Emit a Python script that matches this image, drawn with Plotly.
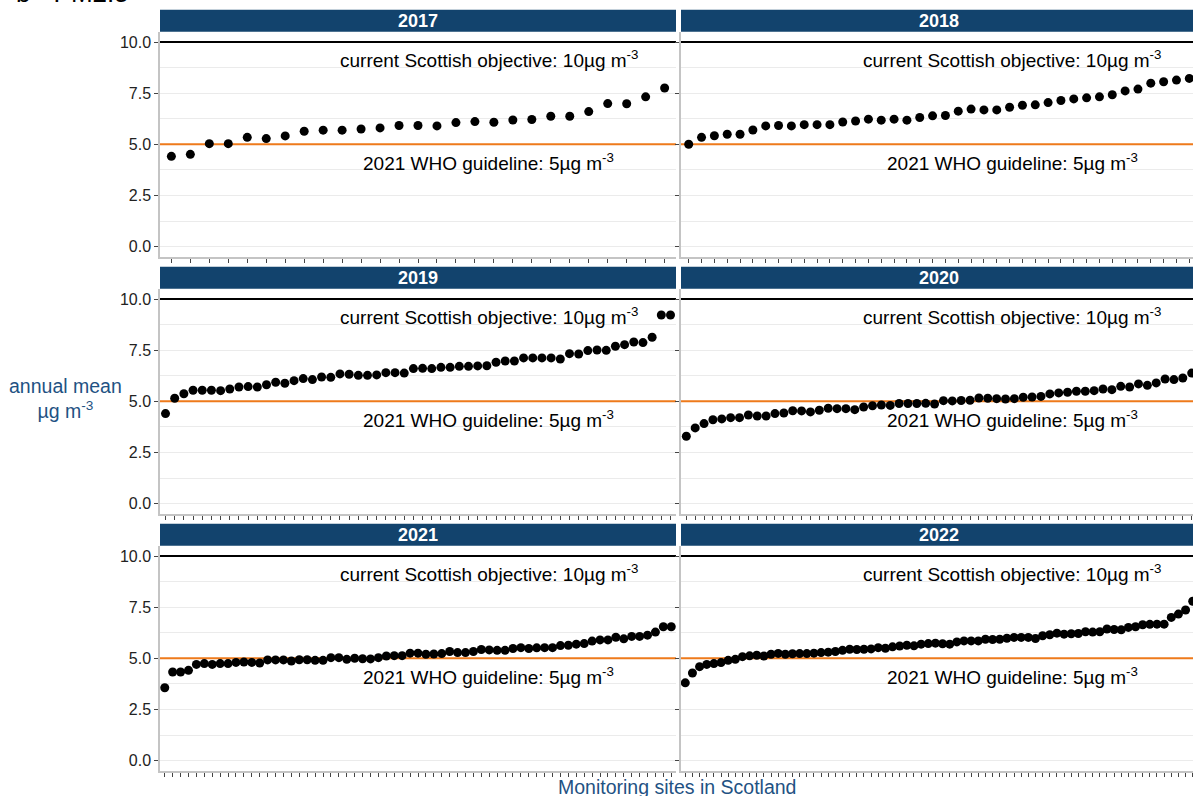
import plotly.graph_objects as go

# Annual mean PM2.5 at each monitoring site in Scotland, sorted by concentration
years = ["2017", "2018", "2019", "2020", "2021", "2022"]

pm_2017 = [4.41, 4.51, 5.03, 5.03, 5.34, 5.28, 5.41, 5.64, 5.69, 5.69, 5.75, 5.80, 5.92,
           5.92, 5.90, 6.06, 6.11, 6.08, 6.19, 6.21, 6.37, 6.37, 6.60, 6.99, 6.98, 7.32, 7.75]

pm_2018 = [5.00, 5.34, 5.42, 5.49, 5.49, 5.70, 5.90, 5.92, 5.90, 5.96, 5.96, 5.96, 6.09,
           6.14, 6.23, 6.18, 6.23, 6.18, 6.31, 6.39, 6.41, 6.62, 6.72, 6.68, 6.68, 6.81,
           6.91, 6.93, 7.04, 7.14, 7.22, 7.27, 7.32, 7.42, 7.61, 7.70, 7.99, 8.06, 8.14, 8.22]

pm_2019 = [4.40, 5.15, 5.37, 5.54, 5.54, 5.54, 5.52, 5.60, 5.70, 5.72, 5.70, 5.81, 5.93,
           5.88, 6.01, 6.11, 6.06, 6.19, 6.17, 6.34, 6.32, 6.27, 6.27, 6.29, 6.40, 6.40,
           6.38, 6.60, 6.61, 6.60, 6.66, 6.66, 6.71, 6.71, 6.73, 6.74, 6.91, 6.97, 6.97,
           7.12, 7.12, 7.12, 7.12, 7.07, 7.33, 7.31, 7.48, 7.51, 7.49, 7.69, 7.77, 7.90,
           7.87, 8.13, 9.22, 9.22]

pm_2020 = [3.29, 3.70, 3.91, 4.10, 4.14, 4.20, 4.20, 4.33, 4.28, 4.28, 4.40, 4.43, 4.54,
           4.53, 4.48, 4.56, 4.66, 4.64, 4.64, 4.59, 4.72, 4.78, 4.82, 4.80, 4.89, 4.89,
           4.89, 4.90, 4.87, 5.03, 5.02, 5.04, 5.05, 5.16, 5.15, 5.13, 5.11, 5.13, 5.20,
           5.21, 5.24, 5.36, 5.41, 5.44, 5.49, 5.49, 5.52, 5.60, 5.57, 5.73, 5.70, 5.85,
           5.78, 5.90, 6.09, 6.06, 6.14, 6.38]

pm_2021 = [3.56, 4.33, 4.33, 4.41, 4.70, 4.74, 4.70, 4.74, 4.74, 4.80, 4.82, 4.80, 4.77,
           4.92, 4.92, 4.92, 4.87, 4.93, 4.93, 4.90, 4.90, 5.03, 5.03, 4.95, 5.00, 4.98,
           4.97, 5.03, 5.11, 5.13, 5.13, 5.25, 5.25, 5.20, 5.21, 5.23, 5.33, 5.28, 5.28,
           5.33, 5.43, 5.41, 5.39, 5.39, 5.48, 5.52, 5.48, 5.51, 5.52, 5.52, 5.62, 5.64,
           5.69, 5.72, 5.84, 5.90, 5.90, 6.03, 5.95, 6.07, 6.07, 6.13, 6.28, 6.54, 6.54]

pm_2022 = [3.80, 4.28, 4.59, 4.70, 4.74, 4.79, 4.90, 4.95, 5.08, 5.12, 5.15, 5.11, 5.20,
           5.24, 5.20, 5.22, 5.23, 5.23, 5.25, 5.28, 5.30, 5.33, 5.39, 5.44, 5.43, 5.44,
           5.46, 5.52, 5.49, 5.56, 5.60, 5.64, 5.61, 5.69, 5.72, 5.74, 5.71, 5.69, 5.80,
           5.85, 5.85, 5.85, 5.93, 5.92, 5.93, 5.98, 6.02, 6.02, 6.02, 5.97, 6.10, 6.15,
           6.23, 6.18, 6.20, 6.21, 6.30, 6.28, 6.30, 6.43, 6.41, 6.39, 6.51, 6.54, 6.64,
           6.66, 6.67, 6.67, 7.00, 7.16, 7.36, 7.79]

series = [pm_2017, pm_2018, pm_2019, pm_2020, pm_2021, pm_2022]

y_ticks = [0, 2.5, 5, 7.5, 10]
y_tick_text = ["0.0", "2.5", "5.0", "7.5", "10.0"]
objective = 10
who_guideline = 5
objective_label = "current Scottish objective: 10µg m<sup>-3</sup>"
who_label = "2021 WHO guideline: 5µg m<sup>-3</sup>"

# ---- page geometry (pixels) ----
W, H = 1193, 796
col_px = [(160, 676), (681, 1197)]       # right column runs past the page edge
panel_top_px = [31.8, 288.8, 545.8]
panel_h = 225.0
strip_h = 22.0
text_center_px = [489, 1012]

STRIP = "#12436D"
ORANGE = "#EE7A1B"
GRID = "#EBEBEB"
AXLINE = "#C4C4C4"
TITLE_BLUE = "#1F5283"
FONT = "Liberation Sans, Arial, sans-serif"


def px_x(p):
    return p / W


def px_y(p):
    return 1 - p / H


fig = go.Figure()
shapes = []
annotations = []

for i, (year, vals) in enumerate(zip(years, series)):
    row, col = divmod(i, 2)
    k = i + 1
    xa = "x" if k == 1 else f"x{k}"
    ya = "y" if k == 1 else f"y{k}"
    xkey = "xaxis" if k == 1 else f"xaxis{k}"
    ykey = "yaxis" if k == 1 else f"yaxis{k}"

    left, right = col_px[col]
    vis_right = min(right, W)
    top = panel_top_px[row]
    bottom = top + panel_h
    n = len(vals)
    span = n + 0.2
    x_min = 0.4
    x_max = x_min + span * (vis_right - left) / (right - left)

    # reference lines, drawn under the points
    fig.add_trace(go.Scatter(
        x=[x_min, x_max], y=[objective, objective], mode="lines", xaxis=xa, yaxis=ya,
        line=dict(color="black", width=2), showlegend=False, hoverinfo="skip",
    ))
    fig.add_trace(go.Scatter(
        x=[x_min, x_max], y=[who_guideline, who_guideline], mode="lines", xaxis=xa, yaxis=ya,
        line=dict(color=ORANGE, width=2), showlegend=False, hoverinfo="skip",
    ))

    sites = list(range(1, n + 1))
    fig.add_trace(go.Scatter(
        x=sites, y=vals, mode="markers", xaxis=xa, yaxis=ya,
        marker=dict(size=9, color="black"), showlegend=False, hoverinfo="y",
    ))

    fig.layout[xkey] = dict(
        domain=[px_x(left), px_x(vis_right)], anchor=ya, range=[x_min, x_max],
        tickvals=sites, showticklabels=False, ticks="outside", ticklen=4,
        tickcolor="#444", tickwidth=1, showgrid=False, zeroline=False,
        showline=True, linecolor=AXLINE, linewidth=1.5, fixedrange=True,
    )
    fig.layout[ykey] = dict(
        domain=[px_y(bottom), px_y(top)], anchor=xa, range=[-0.5, 10.5],
        tickvals=y_ticks, ticktext=y_tick_text, showticklabels=(col == 0),
        ticks="outside", ticklen=4, tickcolor="#444", tickwidth=1,
        tickfont=dict(size=16, color="#222", family=FONT),
        showgrid=True, gridcolor=GRID, gridwidth=1, zeroline=False,
        minor=dict(tickvals=[1.25, 3.75, 6.25, 8.75], showgrid=True,
                   gridcolor=GRID, gridwidth=1, ticks=""),
        showline=True, linecolor=AXLINE, linewidth=1.5, fixedrange=True,
    )

    tx = (text_center_px[col] - left) / (vis_right - left)
    annotations.append(dict(xref="paper", yref="paper",
                            x=px_x(left) + tx * (px_x(vis_right) - px_x(left)),
                            y=px_y(top + (10.5 - 9.18) * panel_h / 11.0),
                            text=objective_label, showarrow=False,
                            xanchor="center", yanchor="middle",
                            font=dict(size=19, color="black", family=FONT)))
    annotations.append(dict(xref="paper", yref="paper",
                            x=px_x(left) + tx * (px_x(vis_right) - px_x(left)),
                            y=px_y(top + (10.5 - 4.12) * panel_h / 11.0),
                            text=who_label, showarrow=False,
                            xanchor="center", yanchor="middle",
                            font=dict(size=19, color="black", family=FONT)))

    # facet strip
    shapes.append(dict(type="rect", xref="paper", yref="paper",
                       x0=px_x(left), x1=px_x(right), y0=px_y(top), y1=px_y(top - strip_h),
                       fillcolor=STRIP, line=dict(width=0), layer="above"))
    annotations.append(dict(xref="paper", yref="paper",
                            x=px_x((left + right) / 2),
                            y=px_y(top - strip_h / 2), text=f"<b>{year}</b>",
                            showarrow=False, xanchor="center", yanchor="middle",
                            font=dict(size=18, color="white", family=FONT)))

# axis titles
annotations.append(dict(xref="paper", yref="paper", x=px_x(65), y=px_y(398),
                        text="annual mean<br>µg m<sup>-3</sup>", showarrow=False,
                        xanchor="center", yanchor="middle", align="center",
                        font=dict(size=19.5, color=TITLE_BLUE, family=FONT)))
annotations.append(dict(xref="paper", yref="paper", x=px_x(677), y=px_y(787),
                        text="Monitoring sites in Scotland", showarrow=False,
                        xanchor="center", yanchor="middle",
                        font=dict(size=19.5, color=TITLE_BLUE, family=FONT)))
# chart title, sitting mostly above the top edge of the page
annotations.append(dict(xref="paper", yref="paper", x=px_x(14), y=px_y(10),
                        text="b - PM2.5", showarrow=False,
                        xanchor="left", yanchor="bottom",
                        font=dict(size=26, color="black", family=FONT)))

fig.update_layout(
    width=W, height=H, margin=dict(l=0, r=0, t=0, b=0),
    paper_bgcolor="white", plot_bgcolor="white",
    shapes=shapes, annotations=annotations, showlegend=False,
    font=dict(family=FONT),
)

fig.write_html("out.html")
